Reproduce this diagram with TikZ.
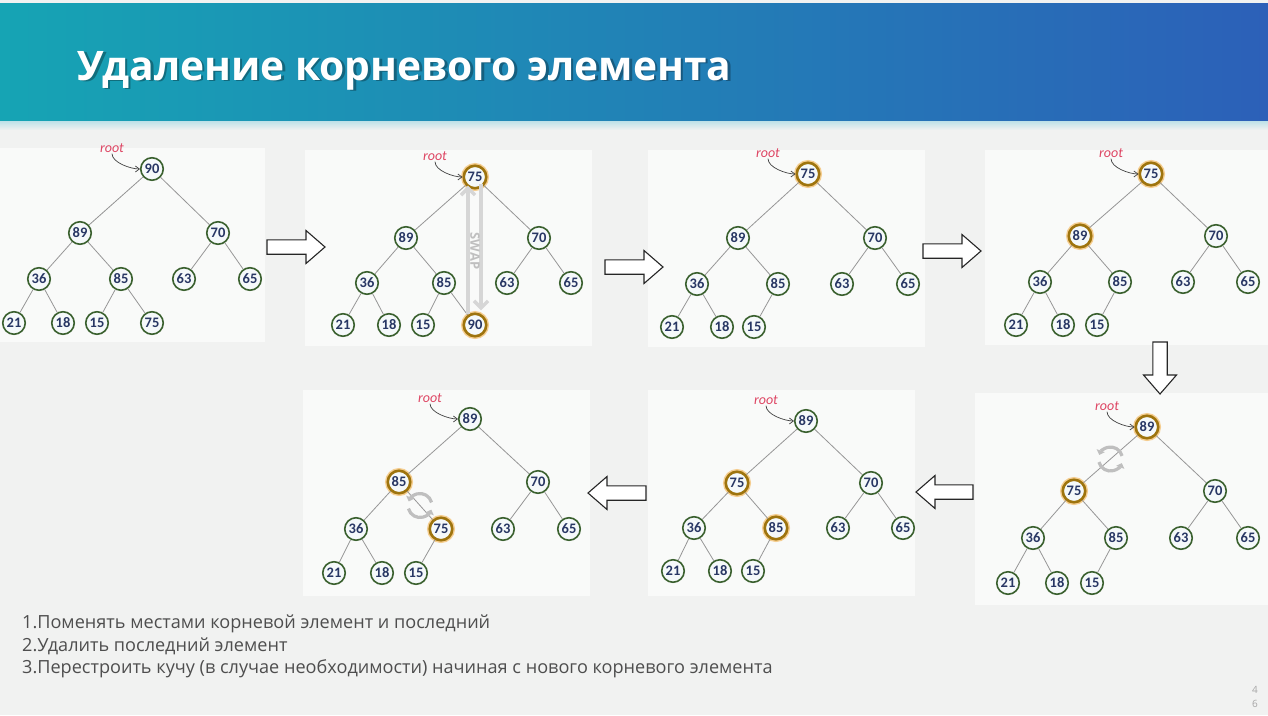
\documentclass[tikz,border=0pt]{standalone}
\usepackage{fontspec}
\setmainfont{Open Sans}
\newfontfamily\numfont{Carlito}
\usetikzlibrary{arrows.meta,calc}

\definecolor{pagebg}{RGB}{241,242,241}
\definecolor{panelbg}{RGB}{249,250,249}
\definecolor{bandL}{RGB}{22,164,180}
\definecolor{bandR}{RGB}{44,96,184}
\definecolor{ringgreen}{RGB}{58,96,46}
\definecolor{nodefill}{RGB}{245,249,250}
\definecolor{numblue}{RGB}{40,55,100}
\definecolor{hlgold}{RGB}{158,116,14}
\definecolor{hlglow}{RGB}{242,162,40}
\definecolor{rootred}{RGB}{222,70,100}
\definecolor{stepgray}{RGB}{78,78,78}
\definecolor{edgegray}{RGB}{150,150,150}

\tikzset{
  hnode/.style={circle, draw=ringgreen, line width=1.6pt, fill=nodefill,
    minimum size=22.5pt, inner sep=0pt,
    font=\numfont\bfseries\fontsize{14.5}{14.5}\selectfont, text=numblue},
  hlnode/.style={hnode, draw=hlgold, line width=2.6pt,
    preaction={draw=hlglow, line width=5.5pt, opacity=.5}},
  edgeline/.style={draw=edgegray, line width=0.8pt},
  rootlbl/.style={font=\numfont\itshape\fontsize{14}{14}\selectfont, text=rootred, inner sep=1pt},
  rootarrow/.style={draw=black!75, line width=0.7pt, -{Straight Barb[length=4pt,width=6pt]}},
  bigarrow/.style={draw=black!85, line width=1.1pt, fill=white, line join=miter},
  swaparrow/.style={draw=gray!32, line width=3.5pt, -{Straight Barb[length=7pt,width=14pt]}},
  cyc/.style={draw=gray!50, line width=3.2pt, -{Triangle[length=4.5pt,width=8.5pt]}},
  panel/.style={fill=panelbg, draw=none},
  pics/blockarrow/.style={code={
    \draw[bigarrow] (0,-7.2) -- ({#1-19},-7.2) -- ({#1-19},-16.5) -- (#1,0)
      -- ({#1-19},16.5) -- ({#1-19},7.2) -- (0,7.2) -- cycle;}},
  pics/cycleicon/.style={code={
    \draw[cyc] (165:12) arc (165:20:12);
    \draw[cyc] (345:12) arc (345:200:12);}}
}

% parent-child links of a heap drawn with nodes <p>r, <p>a ... <p>i
\newcommand\heapedges[1]{%
  \draw[edgeline] (#1r)--(#1a) (#1r)--(#1b) (#1a)--(#1c) (#1a)--(#1d)
    (#1b)--(#1e) (#1b)--(#1f) (#1c)--(#1g) (#1c)--(#1h) (#1d)--(#1i);}
% the "root" marker pointing at the top node
\newcommand\rootmark[1]{%
  \node[rootlbl] (#1lbl) at ([shift={(-40,-21)}]#1r) {root};
  \draw[rootarrow] (#1lbl.south) .. controls +(0,9) and +(-9,0) .. (#1r.west);}

\begin{document}
\begin{tikzpicture}[x=1pt,y=-1pt]
\useasboundingbox (0,0) rectangle (1268,715);
\fill[pagebg] (0,0) rectangle (1268,715);

% header band
\shade[left color=bandL, right color=bandR] (0,3) rectangle (1268,121);
\shade[top color={rgb,255:red,190;green,225;blue,232}, bottom color=pagebg] (0,121) rectangle (1268,130);
\node[anchor=base west, text=black, opacity=.3, font=\bfseries\fontsize{40.7}{40.7}\selectfont]
  at (76.5,81.5) {Удаление корневого элемента};
\node[anchor=base west, text=white, font=\bfseries\fontsize{40.7}{40.7}\selectfont]
  (title) at (74,80) {Удаление корневого элемента};

% light panels behind the trees
\fill[panel] (0,148) rectangle (265,342);
\fill[panel] (305,150) rectangle (592,346);
\fill[panel] (648,150) rectangle (925,347);
\fill[panel] (985,150) rectangle (1268,345);
\fill[panel] (975,393) rectangle (1268,605);
\fill[panel] (648,390) rectangle (915,596);
\fill[panel] (303,390) rectangle (590,596);

% ---- tree 1: initial heap
\node[hnode] (t1r) at (152,169) {90};
\node[hnode] (t1a) at (80,233) {89};
\node[hnode] (t1b) at (218,233) {70};
\node[hnode] (t1c) at (39,279) {36};
\node[hnode] (t1d) at (121,279) {85};
\node[hnode] (t1e) at (184,279) {63};
\node[hnode] (t1f) at (250,279) {65};
\node[hnode] (t1g) at (14,323) {21};
\node[hnode] (t1h) at (63,323) {18};
\node[hnode] (t1i) at (97,323) {15};
\node[hnode] (t1j) at (152,323) {75};
\heapedges{t1}
\draw[edgeline] (t1d)--(t1j);
\rootmark{t1}

% ---- tree 2: root swapped with the last element
\node[hlnode] (t2r) at (475,177) {75};
\node[hnode] (t2a) at (406,238) {89};
\node[hnode] (t2b) at (539,238) {70};
\node[hnode] (t2c) at (367,283) {36};
\node[hnode] (t2d) at (444,283) {85};
\node[hnode] (t2e) at (507,283) {63};
\node[hnode] (t2f) at (571,283) {65};
\node[hnode] (t2g) at (343,325) {21};
\node[hnode] (t2h) at (389,325) {18};
\node[hnode] (t2i) at (423,325) {15};
\node[hlnode] (t2j) at (475,325) {90};
\heapedges{t2}
\draw[edgeline] (t2d)--(t2j);
\rootmark{t2}
\draw[swaparrow] ([xshift=-7pt,yshift=-2pt]t2j.north) -- ([xshift=-7pt,yshift=4pt]t2r.south);
\draw[swaparrow] ([xshift=6pt,yshift=6pt]t2r.south) -- ([xshift=6pt,yshift=2pt]t2j.north);
\node[rotate=-90, text=gray!50, font=\bfseries\fontsize{13}{13}\selectfont] (swaptxt)
  at ($(t2r)!0.5!(t2j)$) {SWAP};

% ---- tree 3: last element removed
\node[hlnode] (t3r) at (808,174) {75};
\node[hnode] (t3a) at (738,238) {89};
\node[hnode] (t3b) at (875,238) {70};
\node[hnode] (t3c) at (697,284) {36};
\node[hnode] (t3d) at (778,284) {85};
\node[hnode] (t3e) at (842,284) {63};
\node[hnode] (t3f) at (908,284) {65};
\node[hnode] (t3g) at (672,327) {21};
\node[hnode] (t3h) at (722,327) {18};
\node[hnode] (t3i) at (754,327) {15};
\heapedges{t3}
\rootmark{t3}

% ---- tree 4: compare root with the larger child
\node[hlnode] (t4r) at (1151,174) {75};
\node[hlnode] (t4a) at (1080,236) {89};
\node[hnode] (t4b) at (1216,236) {70};
\node[hnode] (t4c) at (1040,282) {36};
\node[hnode] (t4d) at (1120,282) {85};
\node[hnode] (t4e) at (1183,282) {63};
\node[hnode] (t4f) at (1248,282) {65};
\node[hnode] (t4g) at (1016,325) {21};
\node[hnode] (t4h) at (1063,325) {18};
\node[hnode] (t4i) at (1097,325) {15};
\heapedges{t4}
\rootmark{t4}

% ---- tree 5: 75 and 89 exchanged
\node[hlnode] (t5r) at (1147,427) {89};
\node[hlnode] (t5a) at (1074,491) {75};
\node[hnode] (t5b) at (1215,491) {70};
\node[hnode] (t5c) at (1033,538) {36};
\node[hnode] (t5d) at (1116,538) {85};
\node[hnode] (t5e) at (1181,538) {63};
\node[hnode] (t5f) at (1248,538) {65};
\node[hnode] (t5g) at (1008,583) {21};
\node[hnode] (t5h) at (1057,583) {18};
\node[hnode] (t5i) at (1092,583) {15};
\heapedges{t5}
\rootmark{t5}
\coordinate (cyc5) at ($(t5r)!0.5!(t5a)$);
\pic at (cyc5) {cycleicon};

% ---- tree 6: compare 75 with its child 85
\node[hnode] (t6r) at (806,421) {89};
\node[hlnode] (t6a) at (737,483) {75};
\node[hnode] (t6b) at (871,483) {70};
\node[hnode] (t6c) at (694,528) {36};
\node[hlnode] (t6d) at (776,528) {85};
\node[hnode] (t6e) at (838,528) {63};
\node[hnode] (t6f) at (903,528) {65};
\node[hnode] (t6g) at (673,571) {21};
\node[hnode] (t6h) at (720,571) {18};
\node[hnode] (t6i) at (753,571) {15};
\heapedges{t6}
\rootmark{t6}

% ---- tree 7: 75 and 85 exchanged
\node[hnode] (t7r) at (470,419) {89};
\node[hlnode] (t7a) at (399,482) {85};
\node[hnode] (t7b) at (538,482) {70};
\node[hnode] (t7c) at (356,529) {36};
\node[hlnode] (t7d) at (441,529) {75};
\node[hnode] (t7e) at (503,529) {63};
\node[hnode] (t7f) at (569,529) {65};
\node[hnode] (t7g) at (334,573) {21};
\node[hnode] (t7h) at (382,573) {18};
\node[hnode] (t7i) at (416,573) {15};
\heapedges{t7}
\rootmark{t7}
\coordinate (cyc7) at ($(t7a)!0.5!(t7d)$);
\pic at (cyc7) {cycleicon};

% ---- step arrows between the trees
\pic at (267,247) {blockarrow=58};
\pic at (605,267) {blockarrow=58};
\pic at (923,251) {blockarrow=58};
\pic[rotate=-90] at (1160,342) {blockarrow=52};
\pic[rotate=180] at (973,492) {blockarrow=57};
\pic[rotate=180] at (646,493) {blockarrow=58};

% ---- algorithm steps
\begin{scope}[every node/.style={anchor=base west, text=stepgray, inner sep=0pt,
    font=\fontsize{18.1}{18.1}\selectfont}]
  \node (s1) at (22,628) {1.Поменять местами корневой элемент и последний};
  \node (s2) at (22,651) {2.Удалить последний элемент};
  \node (s3) at (22,673) {3.Перестроить кучу (в случае необходимости) начиная с нового корневого элемента};
\end{scope}

% page number
\node[text=gray!70, font=\fontsize{10}{10}\selectfont] (pg1) at (1255,690) {4};
\node[text=gray!70, font=\fontsize{10}{10}\selectfont] (pg2) at (1255,704) {6};
\end{tikzpicture}
\end{document}
